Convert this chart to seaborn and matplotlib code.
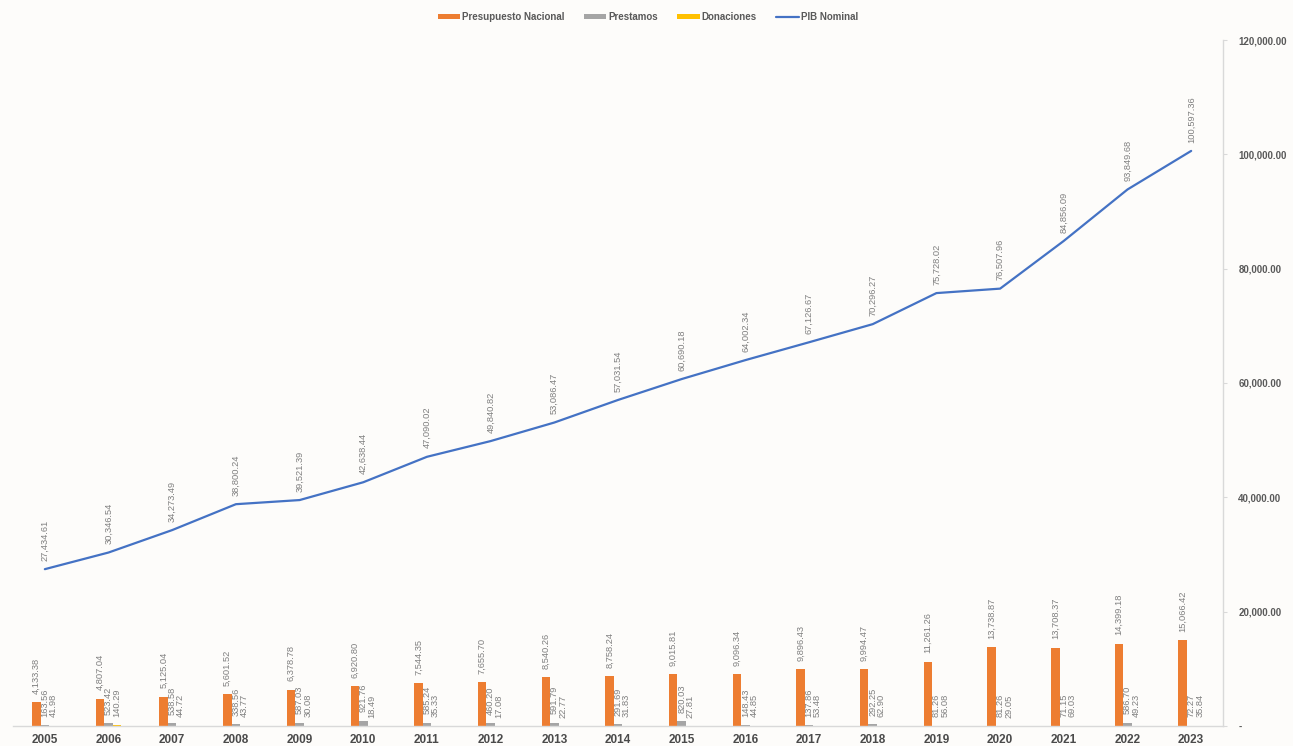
import matplotlib
matplotlib.use("Agg")
import matplotlib.pyplot as plt
import numpy as np
import pandas as pd
import seaborn as sns
from matplotlib.patches import Patch
from matplotlib.lines import Line2D
from matplotlib.ticker import FuncFormatter, MultipleLocator

# ---------------- data ----------------
years = [str(y) for y in range(2005, 2024)]
presupuesto = [4133.38, 4807.04, 5125.04, 5601.52, 6378.78, 6920.80, 7544.35, 7655.70,
               8540.26, 8758.24, 9015.81, 9096.34, 9896.43, 9994.47, 11261.26, 13738.87,
               13708.37, 14399.18, 15066.42]
prestamos = [163.56, 523.42, 538.58, 338.56, 587.03, 921.76, 585.24, 460.20, 591.79,
             291.69, 820.03, 148.43, 137.86, 292.25, 81.26, 81.26, 71.15, 586.70, 72.27]
donaciones = [41.98, 140.29, 44.72, 43.77, 30.08, 18.49, 35.33, 17.08, 22.77, 31.83,
              27.81, 44.85, 53.48, 62.90, 56.08, 29.05, 69.03, 49.23, 35.84]
pib = [27434.61, 30346.54, 34273.49, 38800.24, 39521.39, 42638.44, 47090.02, 49840.82,
       53086.47, 57031.54, 60690.18, 64002.34, 67126.67, 70296.27, 75728.02, 76507.96,
       84856.09, 93849.68, 100597.36]
bar_series = ["Presupuesto Nacional", "Prestamos", "Donaciones"]
line_series = "PIB Nominal"

# ---------------- style ----------------
BG = "#fdfcfa"
C_ORANGE = "#ED7D31"
C_GRAY = "#A5A5A5"
C_YELLOW = "#FFC000"
C_BLUE = "#4472C4"
LABEL_C = "#7f7f7f"
TICK_C = "#595959"

sns.set_theme(style="white")
plt.rcParams["font.family"] = ["Liberation Sans", "DejaVu Sans"]

fig = plt.figure(figsize=(12.93, 7.46), dpi=100, facecolor=BG)
ax = fig.add_axes([13 / 1293, 20 / 746, (1223 - 13) / 1293, (726 - 40) / 746])
ax.set_facecolor(BG)

df = pd.DataFrame({
    "Año": years * 3,
    "Serie": [bar_series[0]] * len(years) + [bar_series[1]] * len(years) + [bar_series[2]] * len(years),
    "Valor": presupuesto + prestamos + donaciones,
})

sns.barplot(data=df, x="Año", y="Valor", hue="Serie", order=years, hue_order=bar_series,
            palette=[C_ORANGE, C_GRAY, C_YELLOW], width=0.4, gap=0, saturation=1,
            linewidth=0, legend=False, ax=ax)

for cont, vals in zip(ax.containers, [presupuesto, prestamos, donaciones]):
    ax.bar_label(cont, labels=[f"{v:,.2f}" for v in vals], rotation=90, padding=6,
                 fontsize=6.7, color=LABEL_C)

sns.pointplot(x=years, y=pib, order=years, color=C_BLUE, markers="", linewidth=1.6, ax=ax)

for i, v in enumerate(pib):
    ax.annotate(f"{v:,.2f}", xy=(i, v), xytext=(0, 6), textcoords="offset points",
                rotation=90, ha="center", va="bottom", fontsize=6.7, color=LABEL_C)

ax.set_xlim(-0.5, len(years) - 0.5)
ax.set_ylim(0, 120000)
ax.yaxis.set_major_locator(MultipleLocator(20000))
ax.yaxis.set_major_formatter(FuncFormatter(lambda v, _: "-" if v == 0 else f"{v:,.2f}"))
ax.yaxis.tick_right()
ax.tick_params(axis="y", which="major", length=3, width=0.8, color="#d9d9d9",
               labelsize=7, labelcolor=TICK_C, pad=8)
ax.tick_params(axis="x", length=0, labelsize=8.5, labelcolor="#4a4a4a", pad=6)
for lbl in ax.get_yticklabels() + ax.get_xticklabels():
    lbl.set_fontweight("bold")
ax.set_xlabel("")
ax.set_ylabel("")
for s in ["left", "top"]:
    ax.spines[s].set_visible(False)
for s in ["right", "bottom"]:
    ax.spines[s].set_color("#d9d9d9")
    ax.spines[s].set_linewidth(1.0)
ax.grid(False)

handles = [Patch(facecolor=C_ORANGE, edgecolor="none"),
           Patch(facecolor=C_GRAY, edgecolor="none"),
           Patch(facecolor=C_YELLOW, edgecolor="none"),
           Line2D([0], [0], color=C_BLUE, linewidth=1.6)]
leg = fig.legend(handles, bar_series + [line_series], loc="center", bbox_to_anchor=(0.501, 0.977),
                 ncol=4, frameon=False, fontsize=7, handlelength=2.3, handleheight=0.5,
                 columnspacing=2.0, handletextpad=0.2)
for t in leg.get_texts():
    t.set_color(TICK_C)
    t.set_fontweight("bold")

fig.savefig("out.png", dpi=100, facecolor=BG)
